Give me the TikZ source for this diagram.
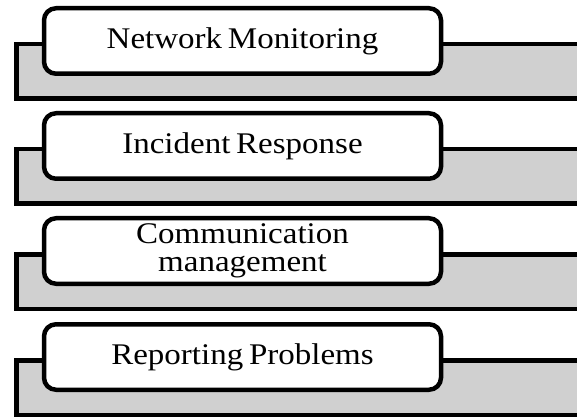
\documentclass[tikz,border=0pt]{standalone}
\usepackage{fontspec}
\setmainfont{Liberation Serif}
\newfontfamily\boxfont[FakeStretch=1.1, WordSpace=0.7]{Liberation Serif}
\definecolor{backgray}{RGB}{208,208,208}
\begin{document}
\begin{tikzpicture}[x=1pt,y=-1pt,
  backbar/.style={draw=black, line width=4.5pt, fill=backgray, rectangle, inner sep=0pt,
    minimum width=584pt, minimum height=54.5pt},
  labelbox/.style={draw=black, line width=4.5pt, fill=white, rectangle, rounded corners=12pt,
    inner sep=0pt, minimum width=397pt, minimum height=65.5pt, align=center,
    font=\boxfont\fontsize{30}{28.5}\selectfont}]
\useasboundingbox (0,0) rectangle (577,419);
\clip (0,0) rectangle (577,419);
\foreach \i/\T/\txt in {1/6/{Network Monitoring}, 2/111/{Incident Response}, 3/216/{Communication\\management}, 4/322/{Reporting Problems}}{
  \node[backbar] (bar\i) at (308.25,\T+65.5) {};
  \node[labelbox] (box\i) at (242.5,\T+35) {\txt};
}
\end{tikzpicture}
\end{document}
